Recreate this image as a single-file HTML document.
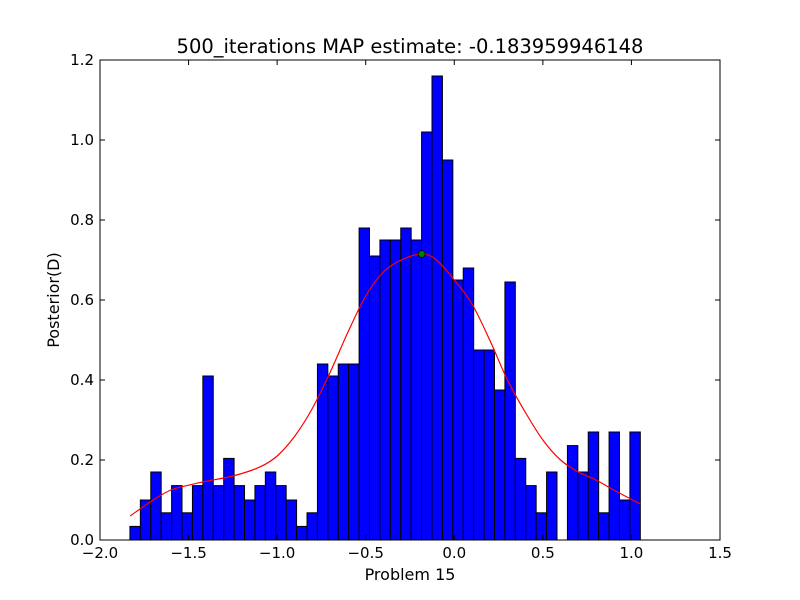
<!DOCTYPE html>
<html><head><meta charset="utf-8"><style>body{margin:0;background:#fff}svg{display:block;font-family:"DejaVu Sans","Liberation Sans",sans-serif}</style></head>
<body>
<svg id="chart" width="800" height="600" viewBox="0 0 800 600"></svg>
<script>
const binStart = -1.831;
const binWidth = 0.0588;
const barValues = [0.034,0.10,0.17,0.068,0.136,0.068,0.136,0.41,0.136,0.204,0.136,0.10,0.136,0.17,0.136,0.10,0.034,0.068,
0.44,0.41,0.44,0.44,0.78,0.71,0.75,0.75,0.78,0.75,1.02,1.16,0.95,0.65,0.68,0.475,0.475,0.375,0.645,0.204,0.136,0.068,0.17,0,0.236,0.17,0.27,0.068,0.27,0.10,0.27];
const curveX = [-1.83,-1.7,-1.6,-1.5,-1.4,-1.25,-1.1,-1.0,-0.9,-0.8,-0.7,-0.6,-0.5,-0.4,-0.3,-0.184,-0.1,0,0.1,0.2,0.3,0.4,0.5,0.6,0.7,0.8,0.9,1.05];
const curveY = [0.06,0.10,0.125,0.137,0.147,0.16,0.182,0.21,0.26,0.33,0.42,0.52,0.61,0.67,0.70,0.715,0.70,0.65,0.59,0.50,0.40,0.32,0.25,0.20,0.17,0.15,0.125,0.09];
const mapX = -0.183959946148, mapY = 0.715;
const xTicks = [-2.0,-1.5,-1.0,-0.5,0.0,0.5,1.0,1.5];
const yTicks = [0.0,0.2,0.4,0.6,0.8,1.0,1.2];

const L=100,R=720,T=60,B=540;
const xs=v=>L+(v+2)/3.5*(R-L);
const ys=v=>B-v/1.2*(B-T);
const svg=document.getElementById('chart');
const NS='http://www.w3.org/2000/svg';
function mk(tag,attrs,parent){const e=document.createElementNS(NS,tag);for(const k in attrs)e.setAttribute(k,attrs[k]);(parent||svg).appendChild(e);return e;}
const fmt=v=>(v<0?'\u2212':'')+Math.abs(v).toFixed(1);

const bars=mk('g',{});


barValues.forEach((v,i)=>{
  if(v<=0)return;
  const x0=xs(binStart+i*binWidth),x1=xs(binStart+(i+1)*binWidth);
  const r=mk('rect',{x:x0,y:ys(v),width:x1-x0,height:ys(0)-ys(v),fill:'#0000ff',stroke:'#000','stroke-width':1},bars);
  
  
});
const P=curveX.map((x,i)=>[xs(x),ys(curveY[i])]);
let d='M'+P[0][0].toFixed(2)+' '+P[0][1].toFixed(2);
for(let i=0;i<P.length-1;i++){
  const p0=P[i-1]||P[i],p1=P[i],p2=P[i+1],p3=P[i+2]||P[i+1];
  const c1=[p1[0]+(p2[0]-p0[0])/6,p1[1]+(p2[1]-p0[1])/6];
  const c2=[p2[0]-(p3[0]-p1[0])/6,p2[1]-(p3[1]-p1[1])/6];
  d+=' C'+c1.map(n=>n.toFixed(2)).join(' ')+' '+c2.map(n=>n.toFixed(2)).join(' ')+' '+p2.map(n=>n.toFixed(2)).join(' ');
}
const c=mk('path',{d:d,fill:'none',stroke:'#ff0000','stroke-width':1.2,'stroke-linejoin':'round'});


const m=mk('circle',{cx:xs(mapX),cy:ys(mapY),r:3.5,fill:'#008000',stroke:'#000','stroke-width':0.8});



const frame=mk('rect',{x:L,y:T,width:R-L,height:B-T,fill:'none',stroke:'#000','stroke-width':1});



xTicks.forEach(v=>{
  const x=xs(v);
  mk('line',{x1:x,x2:x,y1:B,y2:B-5,stroke:'#000'});
  mk('line',{x1:x,x2:x,y1:T,y2:T+5,stroke:'#000'});
  const t=mk('text',{x:x,y:B+18,'text-anchor':'middle','font-size':15});
  t.textContent=fmt(v);
  
  
});
yTicks.forEach(v=>{
  const y=ys(v);
  mk('line',{x1:L,x2:L+5,y1:y,y2:y,stroke:'#000'});
  mk('line',{x1:R,x2:R-5,y1:y,y2:y,stroke:'#000'});
  const t=mk('text',{x:L-6,y:y+5,'text-anchor':'end','font-size':15});
  t.textContent=fmt(v);
  
  
});
const title=mk('text',{x:410,y:53,'text-anchor':'middle','font-size':19.5});
title.textContent='500_iterations MAP estimate: -0.183959946148';


const xl=mk('text',{x:410,y:580,'text-anchor':'middle','font-size':16});
xl.textContent='Problem 15';


const yl=mk('text',{x:59,y:300,'text-anchor':'middle','font-size':16,transform:'rotate(-90 59 300)'});
yl.textContent='Posterior(D)';


</script>
</body></html>
